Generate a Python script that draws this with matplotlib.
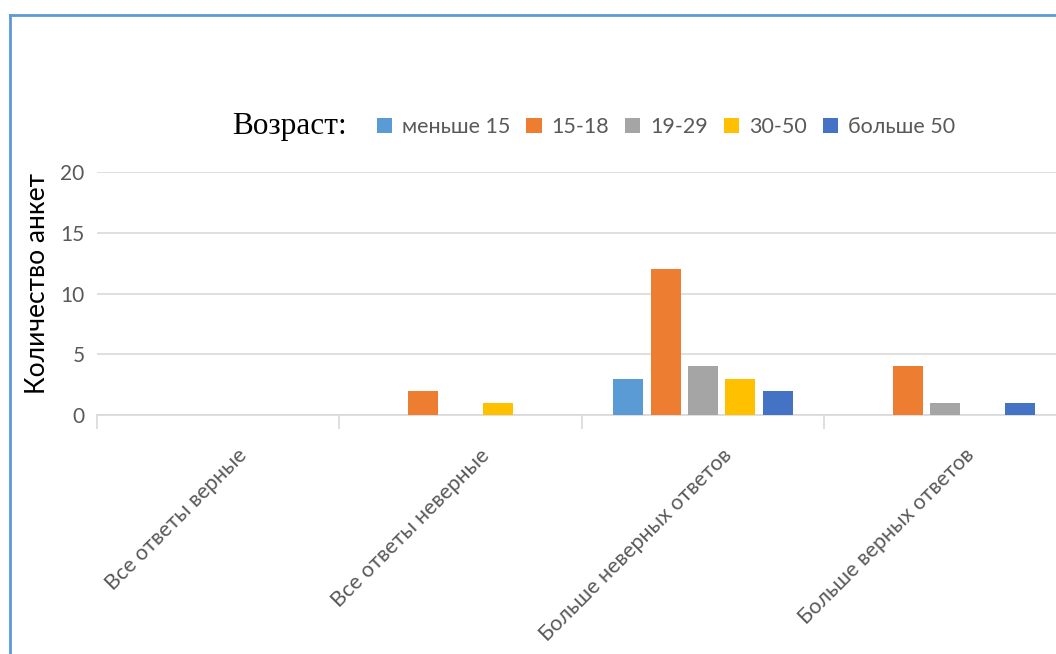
import numpy as np
import matplotlib.pyplot as plt
import matplotlib.transforms as mtransforms
from matplotlib.lines import Line2D

categories = ["Все ответы верные", "Все ответы неверные",
              "Больше неверных ответов", "Больше верных ответов"]
groups = ["меньше 15", "15-18", "19-29", "30-50", "больше 50"]
under_15 = [0, 0, 3, 0]
age_15_18 = [0, 2, 12, 4]
age_19_29 = [0, 0, 4, 1]
age_30_50 = [0, 1, 3, 0]
over_50 = [0, 0, 2, 1]
series = [under_15, age_15_18, age_19_29, age_30_50, over_50]
colors = ["#5B9BD5", "#ED7D31", "#A5A5A5", "#FFC000", "#4472C4"]

font = "Lato"
gray = "#595959"

fig = plt.figure(figsize=(10.56, 6.54), dpi=100)
ax = fig.add_axes([0.0919, 0.3654, 0.918, 0.3716])

x = np.arange(len(categories))
step = 0.154
width = 0.124
for i, (vals, c, name) in enumerate(zip(series, colors, groups)):
    ax.bar(x + (i - 2) * step, vals, width=width, color=c, label=name, zorder=3)

ax.set_xlim(-0.5, len(categories) - 0.5)
ax.set_ylim(0, 20)
ax.set_yticks([0, 5, 10, 15, 20])
ax.grid(axis="y", color="#D9D9D9", linewidth=1.2, zorder=0)
for s in ["top", "right", "left"]:
    ax.spines[s].set_visible(False)
ax.spines["bottom"].set_color("#D9D9D9")
ax.spines["bottom"].set_linewidth(1.2)

# ticks on category boundaries
ax.set_xticks(np.arange(len(categories) + 1) - 0.5)
ax.set_xticklabels([])
ax.tick_params(axis="x", length=10, color="#D9D9D9", width=1.2)
ax.tick_params(axis="y", length=0, labelsize=15, labelcolor=gray, pad=9)
for t in ax.get_yticklabels():
    t.set_family(font)

# category names, slanted, ending a bit right of the category center
trans = mtransforms.blended_transform_factory(ax.transData, ax.transAxes)
shift = mtransforms.ScaledTranslation(0.19, -0.30, fig.dpi_scale_trans)
for xi, cat in zip(x, categories):
    ax.text(xi, 0, cat, transform=trans + shift, rotation=45, ha="right", va="top",
            rotation_mode="anchor", fontsize=15.5, color=gray, family=font)

fig.text(38 / 1056, 1 - 284 / 654, "Количество анкет", rotation=90, ha="center",
         va="center", fontsize=19, family=font, color="black")

fig.text(0.2195, 0.806, "Возраст:", family="Liberation Serif", fontsize=22.5,
         va="center", ha="left")
fig.legend(loc="center left", bbox_to_anchor=(0.357, 0.806), ncol=5, frameon=False,
           prop={"family": font, "size": 15.5}, labelcolor=gray,
           borderaxespad=0, borderpad=0,
           handlelength=0.7, handleheight=0.7, handletextpad=0.47, columnspacing=0.74)

# outer frame
fig.add_artist(Line2D([0.0095, 1.0], [1 - 14.5 / 654] * 2, transform=fig.transFigure,
                      color="#5B9BD5", linewidth=2))
fig.add_artist(Line2D([0.0095, 0.0095], [0, 1 - 14.5 / 654], transform=fig.transFigure,
                      color="#5B9BD5", linewidth=2))

fig.savefig("out.png", dpi=100)
